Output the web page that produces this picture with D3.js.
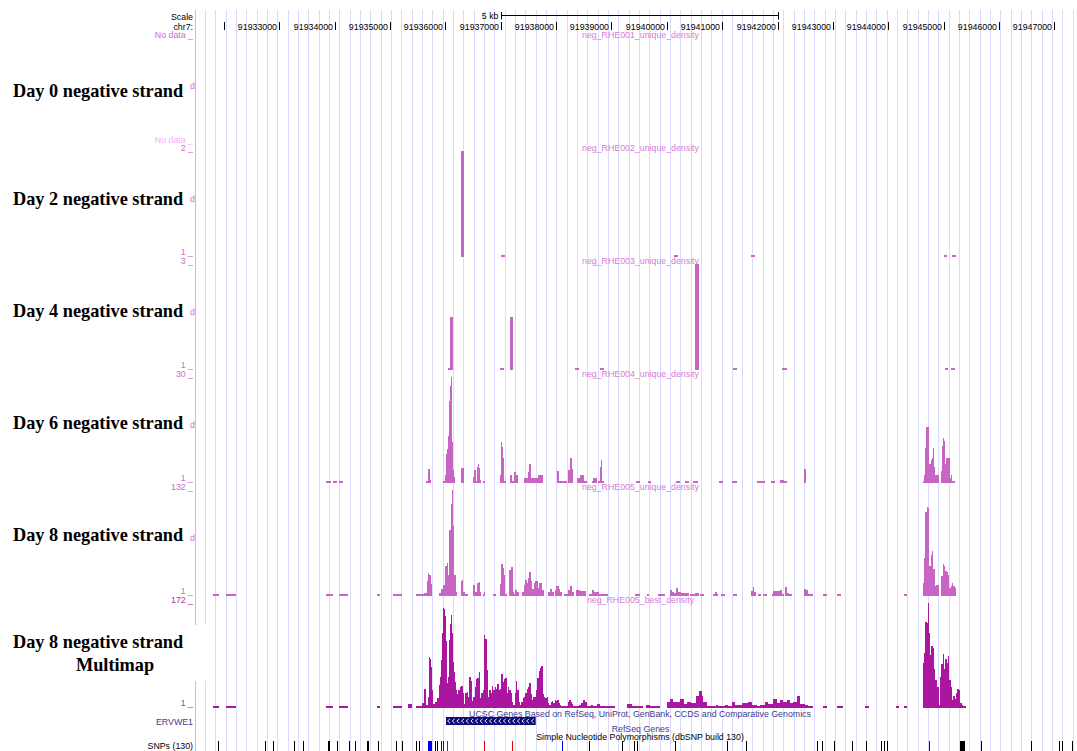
<!DOCTYPE html>
<html><head><meta charset="utf-8">
<script src="https://cdn.jsdelivr.net/npm/d3@7/dist/d3.min.js"></script>
<style>body{margin:0;background:#fff;overflow:hidden}</style>
</head><body>
<svg id="c" width="1077" height="751"></svg>
<script>
// ---------------- DATA ----------------
const chromName = "chr7:";
const viewStart = 91931496, viewEnd = 91947410;
const offsetBase = 91930000; // all feature positions below are bp offsets from chr7:91,930,000
const tickPositions = [91932000,91933000,91934000,91935000,91936000,91937000,91938000,91939000,91940000,91941000,91942000,91943000,91944000,91945000,91946000,91947000];
const tickLabels = ["","91933000","91934000","91935000","91936000","91937000","91938000","91939000","91940000","91941000","91942000","91943000","91944000","91945000","91946000","91947000"];
const scaleBarRange = [91937000, 91942000];
const scaleBarLabel = "5 kb";

const trackTitles = ["neg_RHE001_unique_density","neg_RHE002_unique_density","neg_RHE003_unique_density","neg_RHE004_unique_density","neg_RHE005_unique_density","neg_RHE005_best_density"];
const sideLabels = ["Day 0 negative strand","Day 2 negative strand","Day 4 negative strand","Day 6 negative strand","Day 8 negative strand","Day 8 negative strand"];
const sideLabel2 = "Multimap";
const trackMax = [null, 2, 3, 30, 132, 172];

// [start, end, value]
const day0Neg = [];
const day2Neg = [[6283,6337,2],[7005,7077,1],[10130,10202,1],[11521,11593,1],[15007,15061,1],[15152,15224,1]];
const day4Neg = [[6048,6084,1],[6084,6138,2],[6987,7059,1],[7168,7217,2],[8341,8413,1],[8793,8865,1],[10509,10576,3],[11196,11268,1],[12081,12171,1],[15025,15079,1],[15134,15206,1]];
const day6Neg = [
 [3844,3935,1],[3971,4043,1],[4079,4151,1],
 [5650,5686,1],[5686,5723,5],[5723,5741,2],
 [5952,5993,1],[5993,6012,3.3],[6012,6030,9],[6030,6048,10.5],[6048,6066,14],[6066,6084,23.6],[6084,6102,27.6],[6102,6126,30],[6126,6144,12.3],[6144,6162,4.6],[6162,6180,2.8],
 [6283,6337,5.3],
 [6499,6517,2.8],[6517,6553,4.6],[6553,6572,1],[6572,6590,5.5],[6590,6608,6.2],[6608,6626,5.3],[6626,6653,2],[6675,6716,1.5],
 [6987,7005,3.3],[7005,7023,12.3],[7023,7041,11],[7041,7059,8],[7059,7095,1],
 [7168,7204,3.3],[7204,7240,1],[7240,7276,4.2],[7276,7312,3.3],
 [7420,7493,2.4],[7493,7511,4.2],[7511,7547,6.2],[7547,7673,2.4],[7673,7764,3.3],
 [8011,8047,4.4],[8047,8089,1.5],[8089,8192,1],
 [8210,8251,4.6],[8251,8287,8],[8287,8305,5],
 [8372,8432,2.4],[8432,8504,3.3],[8504,8552,1],
 [8643,8672,1],[8672,8734,2.4],
 [8757,8793,1],[8793,8816,5.5],[8816,8834,7.3],[8834,8865,1],
 [9443,9516,1],[9655,9715,1],[10166,10238,1],[10328,10401,1],[10473,10558,1],[10942,11014,1],[11178,11268,1],
 [11629,11774,1.5],[11882,11954,1],[12045,12117,2],[12117,12171,1.5],[12478,12514,5],
 [14623,14646,1],[14646,14664,3.3],[14664,14682,10.6],[14682,14736,16.3],[14736,14773,6.2],[14773,14791,7.3],[14791,14809,8],[14809,14827,10.6],[14827,14850,5.5],[14850,14917,3.3],
 [14948,14971,4.4],[14971,14989,11.3],[14989,15007,13.3],[15007,15025,12.5],[15025,15043,6.2],[15043,15116,8],[15116,15134,2.4],[15134,15152,3.3],[15152,15206,1.3]
];
const day8Neg = [
 [1804,1912,1],[2038,2219,1],[3845,3917,2.5],[3917,3971,1],[4079,4242,1],[4760,4820,1],[5055,5217,1],
 [5470,5542,1],[5542,5614,2],[5614,5662,4],[5662,5686,18.7],[5686,5710,29],[5710,5735,26],[5735,5758,15],
 [5880,5927,4.3],[5927,5963,9.2],[5963,5999,14.6],[5999,6024,38],[6024,6048,41],[6048,6071,26],[6071,6097,81.7],[6097,6120,114.7],[6120,6138,131],[6138,6162,87.5],[6162,6192,26],[6192,6216,5],
 [6277,6301,18.7],[6301,6324,20.8],[6324,6360,5],[6360,6409,2],
 [6505,6541,14],[6541,6577,6],[6577,6602,16],[6602,6626,17.5],[6626,6649,6],[6674,6698,3.5],[6698,6721,6],
 [6855,6915,1.8],
 [6987,7010,15],[7010,7036,40],[7036,7059,35],[7059,7083,27],[7083,7119,1.8],
 [7155,7180,33],[7180,7216,36],[7216,7240,6],[7240,7263,2],[7263,7299,7.6],[7299,7336,5],
 [7384,7420,6],[7420,7444,14.6],[7444,7469,19.8],[7469,7493,16.7],[7493,7516,22.6],[7516,7541,29.6],[7541,7565,18.7],[7565,7601,9.2],[7601,7625,16.7],[7625,7673,19.5],[7673,7697,10.5],[7697,7746,16],[7746,7782,8.4],
 [7854,7890,5],[7890,7926,9.2],[7926,7962,5],[7975,7998,8.4],[7998,8047,12.5],[8047,8071,9.2],[8071,8107,5],
 [8143,8215,1.8],[8215,8251,8.4],[8251,8287,12.5],[8287,8323,5],
 [8359,8432,7.6],[8432,8540,6.3],[8589,8648,2],[8648,8685,7.6],[8685,8770,5.8],[8781,8943,1.5],
 [9425,9516,1.5],[9636,9683,1.5],[9846,9967,1.5],
 [10058,10094,7.6],[10094,10130,5],[10130,10166,4.3],[10166,10202,10],[10202,10251,5],[10251,10406,3.9],[10419,10503,1.8],[10509,10576,3.9],[10600,10672,1.5],
 [10840,10876,2.2],[10876,10901,5],[10901,10925,2.5],[10985,11046,2.5],[11190,11262,3.5],
 [11515,11551,6.3],[11551,11575,11.7],[11575,11611,5],[11647,11707,1.5],[11743,11804,2.7],
 [11900,11924,1.5],[11924,12045,7.2],[12045,12081,7.6],[12081,12117,3.5],[12129,12165,11.7],[12165,12201,4.3],[12201,12261,3.5],
 [12478,12514,9.2],[12514,12550,7.6],[12550,12646,1.5],[12815,12888,1.5],[13068,13140,1.5],[14285,14333,1.5],
 [14623,14646,16.7],[14646,14670,47.6],[14670,14695,104],[14695,14718,110.6],[14718,14742,109],[14742,14767,37],[14767,14791,51],[14791,14815,56],[14815,14840,34],[14840,14864,12.5],[14864,14923,13.8],
 [14948,14984,25],[14984,15007,40.5],[15007,15031,37],[15031,15055,31],[15055,15079,30],[15079,15103,27],[15103,15128,10.5],[15128,15152,13.4],[15152,15176,16.7],[15176,15200,12.5],[15200,15224,10.5]
];
const day8Multi = [
 [1807,1904,1.5],[2038,2219,1.5],[3845,3917,3],[3917,3971,1.5],[4085,4242,1.5],[4760,4820,1.5],[5061,5223,1.5],[5331,5398,8],
 [5470,5578,1.5],[5578,5614,9],[5614,5650,32],[5650,5686,6.4],[5686,5704,20],[5704,5723,84],[5723,5741,80],[5741,5759,68.5],[5759,5777,30.5],[5777,5813,8],[5813,5849,11.8],[5849,5885,17],
 [5885,5903,39],[5903,5921,52],[5921,5939,79],[5939,5957,122],[5957,5975,163],[5975,5993,161],[5993,6012,149.5],[6012,6030,109],[6030,6048,41.5],[6048,6066,52],[6066,6084,111.7],[6084,6102,137],[6102,6120,152],[6120,6138,122],[6138,6156,76.6],[6156,6174,60.4],[6174,6192,44],[6192,6210,30.7],
 [6210,6234,24],[6234,6265,30],[6265,6288,36],[6288,6312,37.5],[6312,6336,26],[6336,6360,8],[6360,6384,26],[6384,6408,28],[6408,6432,20],[6432,6457,52],[6457,6481,46],[6481,6505,12.9],[6505,6529,20],[6529,6553,36],[6553,6577,48.5],[6577,6602,50],[6602,6626,59],
 [6626,6649,17],[6649,6674,26],[6674,6698,31],[6698,6721,120],[6721,6746,113],[6746,6770,63],[6770,6793,20],[6793,6818,31],[6818,6842,26],[6842,6866,37.5],[6866,6890,31],[6890,6915,36],[6915,6938,33],[6938,6963,40],[6963,6987,31],
 [6987,7010,33],[7010,7036,57],[7036,7059,44],[7059,7083,48.5],[7083,7108,50],[7108,7132,26],[7132,7155,36],[7155,7180,31],[7180,7204,26],[7204,7228,11],[7228,7252,7],[7252,7276,26],[7276,7300,46],[7300,7324,31],[7324,7348,11],
 [7348,7372,6.4],[7372,7397,11],[7397,7420,17],[7420,7444,20],[7444,7469,26],[7469,7493,33],[7493,7516,36],[7516,7541,41.5],[7541,7565,25],[7565,7589,14],[7589,7613,20],[7613,7637,19],[7637,7661,31],[7661,7686,50],[7686,7709,62],[7709,7733,66],[7733,7758,70],
 [7758,7782,25],[7782,7806,20],[7806,7830,17],[7830,7854,20],[7854,7878,9],[7878,7903,6.4],[7903,7926,11],[7926,7950,12.9],[7950,7975,9],[7975,7998,14],[7998,8022,12.9],[8022,8047,14],[8047,8071,9],[8071,8094,6.4],[8094,8131,4],[8131,8167,3],[8167,8215,5],
 [8215,8239,11],[8239,8264,15],[8264,8287,11],[8287,8311,8],[8311,8372,5],[8372,8408,4],[8408,8456,6.4],[8456,8480,9],[8480,8528,15],[8528,8552,11],[8552,8624,3],[8624,8660,6.4],[8660,8733,4],[8733,8793,8],
 [8793,8974,4.5],[8974,9064,3],[9275,9366,8],[9366,9575,2],[9624,9697,6],[9697,9817,3],[9817,9877,2],
 [9997,10058,10.7],[10058,10117,16],[10117,10238,12],[10238,10310,16],[10310,10359,8],[10359,10431,10.7],[10431,10527,9],[10527,10587,21],[10587,10630,29.6],[10630,10659,21],[10659,10720,12],
 [10720,10840,2],[10840,10889,3],[10889,10925,6],[10925,11051,3],[11051,11111,6],[11111,11172,3],[11172,11232,10.7],[11232,11352,6],[11352,11472,9],[11472,11533,12],[11533,11623,6],[11623,11684,3],[11684,11774,6],[11774,11834,10.7],[11834,11924,8],
 [11924,11985,16],[11985,12045,9],[12045,12105,15],[12105,12165,10.7],[12165,12226,15],[12226,12286,9],[12286,12346,12],[12346,12406,21],[12406,12496,8],[12496,12556,6],[12556,12635,2],
 [12826,12888,1.5],[13079,13187,1.5],[13584,13644,1.5],[14144,14186,1.5],[14285,14333,1.5],
 [14623,14646,74],[14646,14670,90],[14670,14695,141],[14695,14718,139],[14718,14736,171],[14736,14755,122.6],[14755,14778,87.5],[14778,14803,101],[14803,14827,98],[14827,14850,64],[14850,14875,47],[14875,14911,35],[14911,14935,6],
 [14935,14958,52],[14958,14984,72],[14984,15007,89],[15007,15031,64],[15031,15055,81],[15055,15079,75],[15079,15103,86],[15103,15128,47],[15128,15152,35],[15152,15176,15],[15176,15200,21],[15200,15224,16],[15224,15248,26],[15248,15272,32],[15272,15296,31],[15296,15327,9],[15327,15357,6],[15357,15405,3]
];
const trackData = [day0Neg, day2Neg, day4Neg, day6Neg, day8Neg, day8Multi];

const geneName = "ERVWE1";
const geneSpan = [6012, 7632]; // minus strand
const geneTrackTitle = "UCSC Genes Based on RefSeq, UniProt, GenBank, CCDS and Comparative Genomics";
const refSeqTitle = "RefSeq Genes";
const snpTitle = "Simple Nucleotide Polymorphisms (dbSNP build 130)";
const snpLabel = "SNPs (130)";
const snpPositions = [1900,2743,2882,3272,3435,3875,3893,4049,4265,4374,4580,4609,4778,5103,5223,5465,5530,5681,5700,5710,5728,5746,5819,5849,5921,5957,6035,6703,7209,8112,8600,9185,9407,9467,10148,11081,11424,12707,12797,13024,13339,13592,13868,13922,13971,14740,15295,15313,15331,15349,15367,15674,16577,17088,17131,17312];
const snpClass = ["k","k","k","k","k","k","k","k","k","k","k","k","k","k","k","k","k","b","b","b","b","b","k","k","b","b","r","r","r","b","k","k","k","k","k","k","k","k","k","k","k","k","k","k","k","b","k","k","k","k","k","k","k","k","k","k"];

// ---------------- DRAWING ----------------
const W = 1077, H = 751;
const svg = d3.select("#c");
const sans = "'Liberation Sans', Arial, Helvetica, sans-serif";
const serif = "'Liberation Serif', 'Times New Roman', serif";
const x = d3.scaleLinear().domain([viewStart, viewEnd]).range([196, W]);
const gx = p => x(offsetBase + p);

// guide lines
const grid = svg.append("g");
d3.range(85).forEach(i => {
  const xx = Math.round(205 + i * 10.33) + 0.5;
  grid.append("line").attr("x1", xx).attr("x2", xx).attr("y1", 10).attr("y2", H)
    .attr("stroke", "#dadaff").attr("stroke-width", 1);
});
svg.append("line").attr("x1", 195.5).attr("x2", 195.5).attr("y1", 10).attr("y2", H)
  .attr("stroke", "#f3aeae").attr("stroke-width", 1);

// ruler
svg.append("text").attr("x", 193).attr("y", 20).attr("text-anchor", "end")
  .attr("font-family", sans).attr("font-size", 8.8).attr("fill", "#000").text("Scale");
svg.append("text").attr("x", 193).attr("y", 29.5).attr("text-anchor", "end")
  .attr("font-family", sans).attr("font-size", 8.8).attr("fill", "#000").text(chromName);
const sb0 = Math.round(x(scaleBarRange[0])) + 0.5, sb1 = Math.round(x(scaleBarRange[1])) + 0.5;
svg.append("line").attr("x1", sb0).attr("x2", sb1).attr("y1", 15.5).attr("y2", 15.5).attr("stroke", "#000");
[sb0, sb1].forEach(v => svg.append("line").attr("x1", v).attr("x2", v).attr("y1", 12).attr("y2", 19.5).attr("stroke", "#000"));
svg.append("text").attr("x", sb0 - 3).attr("y", 19).attr("text-anchor", "end")
  .attr("font-family", sans).attr("font-size", 8.8).attr("fill", "#000").text(scaleBarLabel);
tickPositions.forEach((p, i) => {
  const tx = Math.round(x(p)) + 0.5;
  svg.append("line").attr("x1", tx).attr("x2", tx).attr("y1", 22).attr("y2", 30).attr("stroke", "#000");
  if (tickLabels[i]) svg.append("text").attr("x", tx - 2.5).attr("y", 29.6).attr("text-anchor", "end")
    .attr("font-family", sans).attr("font-size", 8.8).attr("fill", "#000").text(tickLabels[i]);
});

// wiggle tracks
const titleBase = [37.5, 150.6, 263.8, 377, 490.3, 603.4];
const baseLine = [143, 256.7, 370, 483.3, 595.6, 708.4];
const plotH = 106;
const labelCol = "#d06ad0", titleCol = "#d67cd6";
const barCol = ["#c864c4","#c864c4","#c864c4","#c864c4","#c864c4","#ab16a0"];

trackData.forEach((data, t) => {
  const tb = titleBase[t], bl = baseLine[t];
  svg.append("text").attr("x", 640.5).attr("y", tb).attr("text-anchor", "middle")
    .attr("font-family", sans).attr("font-size", 8.8).attr("fill", titleCol).text(trackTitles[t]);
  const axCol = t === 5 ? "#b8309f" : labelCol;
  if (trackMax[t] === null) {
    svg.append("text").attr("x", 193).attr("y", tb).attr("text-anchor", "end")
      .attr("font-family", sans).attr("font-size", 8.8).attr("fill", labelCol).text("No data _");
    svg.append("text").attr("x", 193).attr("y", bl).attr("text-anchor", "end")
      .attr("font-family", sans).attr("font-size", 8.8).attr("fill", "#f2b2f2").text("No data _");
  } else {
    svg.append("text").attr("x", 193).attr("y", tb).attr("text-anchor", "end")
      .attr("font-family", sans).attr("font-size", 8.8).attr("fill", axCol).text(trackMax[t] + " _");
    svg.append("text").attr("x", 193).attr("y", bl - 2).attr("text-anchor", "end")
      .attr("font-family", sans).attr("font-size", 8.8).attr("fill", axCol).text("1 _");
    const y = d3.scaleLinear().domain([1, trackMax[t]]).range([bl, bl - plotH]);
    svg.append("g").selectAll("rect").data(data).join("rect")
      .attr("x", d => gx(d[0]))
      .attr("width", d => Math.max(1, gx(d[1]) - gx(d[0])))
      .attr("y", d => Math.min(y(d[2]), bl - 2))
      .attr("height", d => bl - Math.min(y(d[2]), bl - 2))
      .attr("fill", barCol[t]).attr("shape-rendering", "crispEdges");
  }
  svg.append("text").attr("x", 195).attr("y", tb + 51).attr("text-anchor", "end")
    .attr("font-family", sans).attr("font-size", 8.8).attr("fill", labelCol).text("d");
});

// white box behind the multimap label
svg.append("rect").attr("x", 0).attr("y", 625).attr("width", 208).attr("height", 56).attr("fill", "#fff");

// side labels
const sideY = [97, 205, 317, 429, 541, 648];
sideLabels.forEach((s, i) => {
  svg.append("text").attr("x", 13).attr("y", sideY[i]).attr("font-family", serif)
    .attr("font-weight", "bold").attr("font-size", 18.3).attr("fill", "#000").text(s);
});
svg.append("text").attr("x", 115).attr("y", 671).attr("text-anchor", "middle").attr("font-family", serif)
  .attr("font-weight", "bold").attr("font-size", 18.3).attr("fill", "#000").text(sideLabel2);

// gene track
const geneCol = "#0c0c78", geneText = "#3c3c96";
svg.append("text").attr("x", 640).attr("y", 716.8).attr("text-anchor", "middle")
  .attr("font-family", sans).attr("font-size", 8.8).attr("fill", geneText).text(geneTrackTitle);
svg.append("text").attr("x", 193).attr("y", 725).attr("text-anchor", "end")
  .attr("font-family", sans).attr("font-size", 8.8).attr("fill", geneText).text(geneName);
const g0 = gx(geneSpan[0]), g1 = gx(geneSpan[1]);
svg.append("rect").attr("x", g0).attr("y", 717).attr("width", g1 - g0).attr("height", 8).attr("fill", geneCol);
d3.range(geneSpan[0] + 50, geneSpan[1] - 40, 84).forEach(p => {
  const cx = gx(p);
  svg.append("path").attr("d", `M${cx + 1.3},${718.8} L${cx - 1.2},${721} L${cx + 1.3},${723.2}`)
    .attr("stroke", "#fff").attr("stroke-width", 0.9).attr("fill", "none");
});
svg.append("text").attr("x", 640.5).attr("y", 732).attr("text-anchor", "middle")
  .attr("font-family", sans).attr("font-size", 8.8).attr("fill", geneText).text(refSeqTitle);

// SNP track
svg.append("text").attr("x", 640).attr("y", 740).attr("text-anchor", "middle")
  .attr("font-family", sans).attr("font-size", 8.8).attr("fill", "#000").text(snpTitle);
svg.append("text").attr("x", 193).attr("y", 748.5).attr("text-anchor", "end")
  .attr("font-family", sans).attr("font-size", 8.8).attr("fill", "#000").text(snpLabel);
const snpColors = {k: "#000", b: "#0000ee", r: "#ee0000"};
svg.append("g").selectAll("rect").data(snpPositions).join("rect")
  .attr("x", d => Math.round(gx(d))).attr("width", 1.2).attr("y", 740.5).attr("height", 10.5)
  .attr("fill", (d, i) => snpColors[snpClass[i]]).attr("shape-rendering", "crispEdges");
</script>
</body></html>
